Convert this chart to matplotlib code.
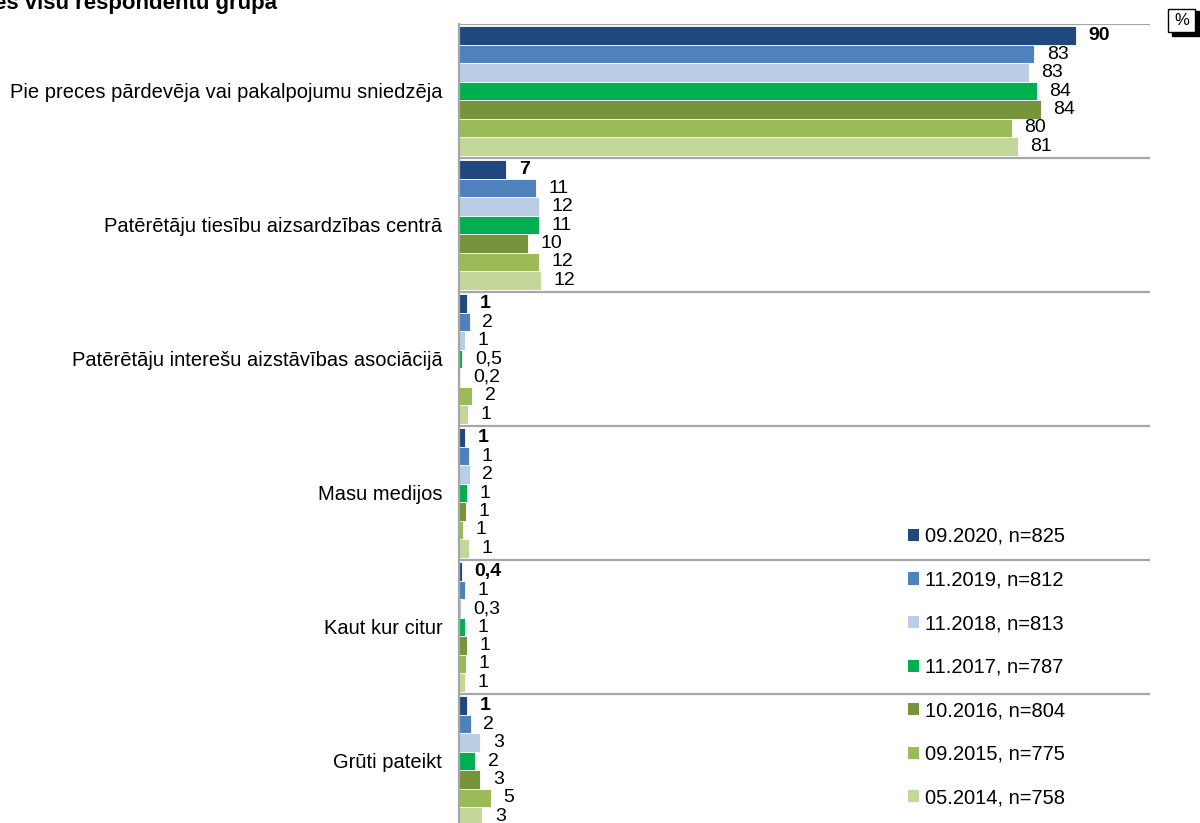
import numpy as np
import matplotlib.pyplot as plt
from matplotlib.patches import Patch, Rectangle

plt.rcParams['font.family'] = ['Liberation Sans', 'DejaVu Sans']

# kategorijas (no augšas uz leju)
categories = [
    "Pie preces pārdevēja vai pakalpojumu sniedzēja",
    "Patērētāju tiesību aizsardzības centrā",
    "Patērētāju interešu aizstāvības asociācijā",
    "Masu medijos",
    "Kaut kur citur",
    "Grūti pateikt",
]

# aptaujas viļņi
series = [
    "09.2020, n=825",
    "11.2019, n=812",
    "11.2018, n=813",
    "11.2017, n=787",
    "10.2016, n=804",
    "09.2015, n=775",
    "05.2014, n=758",
]
colors = ["#1F497D", "#4F81BD", "#B9CDE5", "#00B050", "#77933C", "#9BBB59", "#C4D79B"]

# joslu garumi (nolasīti no attēla), katrai kategorijai 7 viļņi
values = [
    [90.0, 83.9, 83.1, 84.3, 84.9, 80.6, 81.5],
    [6.9, 11.2, 11.7, 11.6, 10.1, 11.6, 11.9],
    [1.2, 1.6, 0.85, 0.5, 0.2, 1.9, 1.3],
    [0.85, 1.4, 1.6, 1.1, 1.0, 0.6, 1.5],
    [0.4, 0.85, 0.3, 0.85, 1.1, 1.0, 0.9],
    [1.2, 1.75, 3.1, 2.35, 3.1, 4.7, 3.4],
]

# datu iezīmes kā attēlā
value_labels = [
    ["90", "83", "83", "84", "84", "80", "81"],
    ["7", "11", "12", "11", "10", "12", "12"],
    ["1", "2", "1", "0,5", "0,2", "2", "1"],
    ["1", "1", "2", "1", "1", "1", "1"],
    ["0,4", "1", "0,3", "1", "1", "1", "1"],
    ["1", "2", "3", "2", "3", "5", "3"],
]

fig = plt.figure(figsize=(12, 8.23), dpi=100)
ax = fig.add_axes([459 / 1200, 1 - 828 / 823, 691 / 1200, 804 / 823])

n_ser = len(series)
h = 0.138
vals = np.array(values)
for j in range(n_ser):
    y = np.arange(len(categories)) + (j - (n_ser - 1) / 2) * h
    bars = ax.barh(y, vals[:, j], height=h, color=colors[j], edgecolor="white", linewidth=0.6)
    for i, b in enumerate(bars):
        ax.annotate(value_labels[i][j], (b.get_width(), b.get_y() + b.get_height() / 2),
                    xytext=(9, 0), textcoords="offset points", ha="left", va="center",
                    fontsize=14, fontweight="bold" if j == 0 else "normal")

# atdalītājlīnijas starp grupām
for k in range(len(categories) + 1):
    ax.axhline(k - 0.5, color="#A6A6A6", linewidth=1.6, zorder=0)

ax.set_xlim(0, 100.8)
ax.set_ylim(len(categories) - 0.5, -0.5)
ax.set_xticks([])
ax.set_yticks(range(len(categories)))
ax.set_yticklabels(categories, fontsize=14.5)
ax.tick_params(axis="y", length=0, pad=12)
for s in ["top", "right", "bottom"]:
    ax.spines[s].set_visible(False)
ax.spines["left"].set_color("#A6A6A6")
ax.spines["left"].set_linewidth(1.6)

handles = [Patch(facecolor=c, edgecolor="none") for c in colors]
fig.legend(handles, series, loc="upper left", bbox_to_anchor=(908 / 1200, 1 - 527 / 823),
           frameon=False, fontsize=14.5, handlelength=0.55, handleheight=0.55,
           handletextpad=0.3, labelspacing=1.22, borderpad=0, borderaxespad=0)

# virsraksts (daļēji ārpus attēla)
fig.text(277 / 1200, 1 - 8.5 / 823, "es visu respondentu grupa", ha="right", va="baseline",
         fontsize=16, fontweight="bold")

# % lodziņš ar ēnu
fig.patches.append(Rectangle((1172 / 1200, 1 - 36 / 823), 27 / 1200, 25 / 823,
                             transform=fig.transFigure, facecolor="black", edgecolor="black"))
fig.patches.append(Rectangle((1168 / 1200, 1 - 32 / 823), 27 / 1200, 23 / 823,
                             transform=fig.transFigure, facecolor="white", edgecolor="black",
                             linewidth=1))
fig.text(1181.5 / 1200, 1 - 20.5 / 823, "%", ha="center", va="center", fontsize=12)

fig.savefig("out.png", dpi=100)
